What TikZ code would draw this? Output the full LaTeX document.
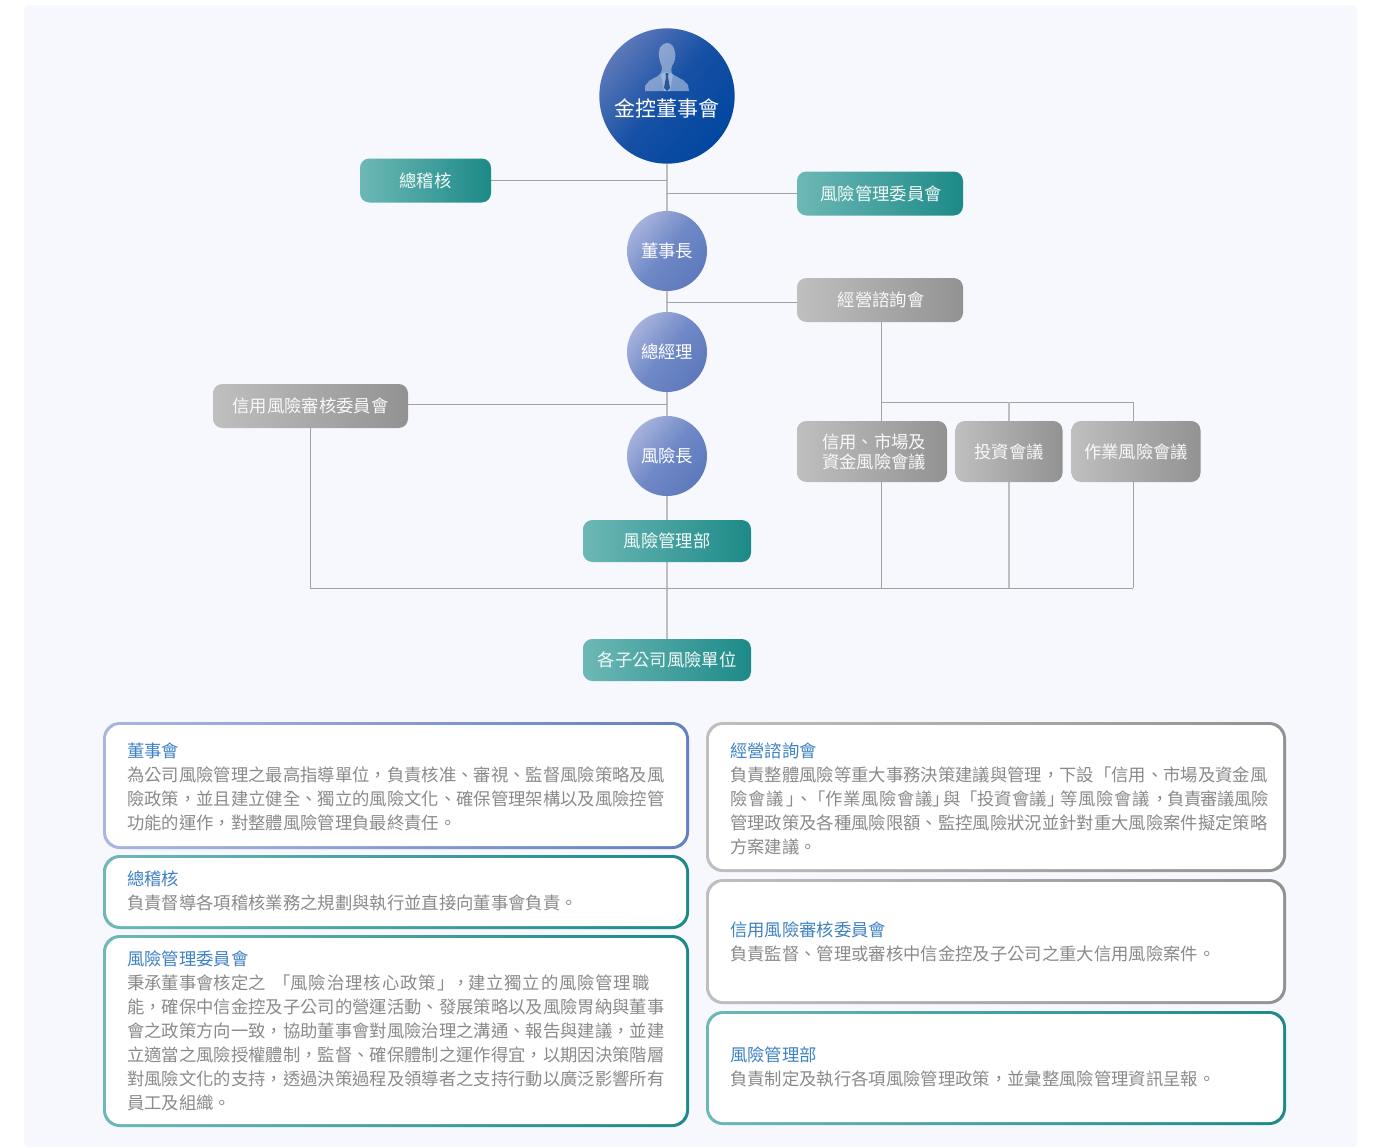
\documentclass[tikz,border=0pt]{standalone}
\usepackage{fontspec}
\setmainfont{Noto Sans CJK TC}
\usetikzlibrary{backgrounds}
\definecolor{pagebg}{HTML}{F6F8FD}
\definecolor{linegray}{HTML}{A2A2A4}
\definecolor{softgray}{HTML}{BEBEC0}
\definecolor{bodytext}{HTML}{8A8A8A}
\definecolor{headtext}{HTML}{3F82C4}
\definecolor{tealA}{HTML}{6DB8B6}
\definecolor{tealB}{HTML}{1C8A87}
\definecolor{grayA}{HTML}{BEBFBE}
\definecolor{grayB}{HTML}{919291}
\definecolor{blueA}{HTML}{AAB6E0}
\definecolor{blueB}{HTML}{6580C0}
\definecolor{boardA}{HTML}{5C78B9}
\definecolor{boardM}{HTML}{1650A4}
\definecolor{boardB}{HTML}{0047A0}
\definecolor{circA}{HTML}{A6B2DC}
\definecolor{circM}{HTML}{6F88C6}
\definecolor{circB}{HTML}{5E7ABC}
\tikzset{
  x=0.75pt, y=-0.75pt,
  sz/.style 2 args={minimum width=#1*0.75pt, minimum height=#2*0.75pt, inner sep=0pt},
  tealbox/.style={rounded corners=7pt, left color=tealA, right color=tealB, text=white!92!tealA, align=center, font=\fontsize{13}{15}\selectfont},
  graybox/.style={rounded corners=7pt, left color=grayA, right color=grayB, text=white!90!grayA, align=center, font=\fontsize{13}{15}\selectfont},
  bluecirc/.style={circle, inner sep=0pt, minimum size=60pt, top color=circA, bottom color=circB, middle color=circM, shading angle=50, text=white, font=\fontsize{13}{15}\selectfont},
  conn/.style={draw=linegray, line width=0.75pt},
  trunk/.style={draw=softgray, line width=1.3pt},
  cardline/.style={rounded corners=12.5pt},
  cardin/.style={rounded corners=10.5pt, fill=white},
  para/.style={anchor=north west, inner sep=0pt, align=left, text=bodytext, font=\fontsize{13}{18}\selectfont},
}
\newcommand{\hd}[1]{\textcolor{headtext}{#1}}
% a run of text in a cell of given pixel width, with letter spacing
\newcommand{\sg}[3]{\makebox[\dimexpr #1pt*3/4\relax][l]{\addfontfeature{LetterSpace=#2}#3}}
\begin{document}
\begin{tikzpicture}
\useasboundingbox (0,0) rectangle (1376,1147);

% chart nodes
\node[circle, inner sep=0pt, minimum size=101.5pt, top color=boardA, bottom color=boardB, middle color=boardM, shading angle=50] (board) at (667,96) {};
\fill[white, opacity=.42] (667,43) .. controls (660,44) and (658,50) .. (659,57) .. controls (660,62) and (661,65) .. (662,67) .. controls (662,72) and (661,75) .. (654,78) -- (649,81) -- (645,86) -- (645,91) -- (689,91) -- (688,85) -- (683,80) -- (672,74) .. controls (671,70) and (671,68) .. (672,66) .. controls (675,62) and (676,56) .. (675,52) .. controls (674,46) and (671,43) .. (667,43) -- cycle;
\fill[white, opacity=.25] (667,72) -- (661,74) -- (664,91) -- (670,91) -- (673,74) -- cycle;
\fill[boardB!80!black, opacity=.75] (665.5,73) -- (668.5,73) -- (668,77) -- (670,88) -- (667,91) -- (664,88) -- (666,77) -- cycle;
\node[text=white, font=\fontsize{15.75}{18}\selectfont] (boardtxt) at (667,108) {金控董事會};

\node[tealbox, sz={131}{44}] (audit) at (425.5,180.5) {總稽核};
\node[tealbox, sz={166}{44}] (rmc) at (880,193.5) {\hspace*{1.5pt}風險管理委員會};
\node[bluecirc] (chair) at (667,251) {董事長};
\node[graybox, sz={166}{44}] (advisory) at (880,300) {\hspace*{1.5pt}經營諮詢會};
\node[bluecirc] (gm) at (667,352) {總經理};
\node[graybox, sz={195}{44}] (credit) at (310.5,406) {信用風險審核委員會};
\node[bluecirc] (cro) at (667,456) {風險長};
\node[tealbox, sz={168}{42}] (rmd) at (667,541) {風險管理部};
\node[tealbox, sz={168}{42}] (subs) at (667,660) {各子公司風險單位};
\node[graybox, sz={150}{61}] (mkt) at (872,451.5) {\hspace*{3pt}信用、市場及\\\hspace*{3pt}資金風險會議};
\node[graybox, sz={107}{61}] (inv) at (1009,451.5) {投資會議};
\node[graybox, sz={129}{61}] (ops) at (1136,451.5) {作業風險會議};

\coordinate (advout) at (797,302);
\coordinate (advdown) at (881,322);
\coordinate (splitL) at (881,402);
\coordinate (splitM) at (1009,402);
\coordinate (splitR) at (1133,402);
\coordinate (creditout) at (408,404);
\coordinate (creditdown) at (310,428);
\coordinate (busL) at (310,588);
\coordinate (busA) at (881,588);
\coordinate (busB) at (1009,588);
\coordinate (busR) at (1133,588);

\begin{scope}[on background layer]
  \fill[pagebg, rounded corners=3pt] (24,5) rectangle (1357,1147);
  \draw[trunk] (board.south) -- (subs.north);
  \draw[conn] (audit.east) -- (audit.east -| board.south);
  \draw[conn] (rmc.west) -- (rmc.west -| board.south);
  \draw[conn] (advout) -- (advout -| board.south);
  \draw[conn] (creditout) -- (creditout -| board.south);
  \draw[conn] (advdown) -- (busA);
  \draw[conn] (splitL) -- (splitR) -- (busR);
  \draw[trunk] (splitM) -- (busB);
  \draw[conn] (creditdown) -- (busL) -- (busR);
\end{scope}

% cards
\path[cardline, left color=blueA, right color=blueB] (103,722) rectangle (689,849);
\path[cardin] (106,725) rectangle (686,846);
\path[cardline, left color=tealA, right color=tealB] (103,855) rectangle (689,929);
\path[cardin] (106,858) rectangle (686,926);
\path[cardline, left color=tealA, right color=tealB] (103,935) rectangle (689,1127);
\path[cardin] (106,938) rectangle (686,1124);
\path[cardline, left color=grayA, right color=grayB] (706,722) rectangle (1286,872);
\path[cardin] (709,725) rectangle (1283,869);
\path[cardline, left color=grayA, right color=grayB] (706,879) rectangle (1286,1004);
\path[cardin] (709,882) rectangle (1283,1001);
\path[cardline, left color=tealA, right color=tealB] (706,1011) rectangle (1286,1125);
\path[cardin] (709,1014) rectangle (1283,1122);

\node[para] (t1) at (127,743) {\hd{董事會}\\為公司風險管理之最高指導單位，負責核准、審視、監督風險策略及風\\險政策，並且建立健全、獨立的風險文化、確保管理架構以及風險控管\\功能的運作，對整體風險管理負最終責任。};
\node[para] (t2) at (127,871) {\hd{總稽核}\\負責督導各項稽核業務之規劃與執行並直接向董事會負責。};
\node[para] (t3) at (127,951) {\hd{風險管理委員會}\\\sg{146}{0}{秉承董事會核定之}\sg{17}{0}{「}\sg{147}{6}{風險治理核心政策}\sg{15}{0}{」}\sg{16}{0}{，}\sg{180}{5}{建立獨立的風險管理職}\\能，確保中信金控及子公司的營運活動、發展策略以及風險胃納與董事\\會之政策方向一致，協助董事會對風險治理之溝通、報告與建議，並建\\立適當之風險授權體制，監督、確保體制之運作得宜，以期因決策階層\\對風險文化的支持，透過決策過程及領導者之支持行動以廣泛影響所有\\員工及組織。};
\node[para] (t4) at (730,743) {\hd{經營諮詢會}\\負責整體風險等重大事務決策建議與管理，下設「信用、市場及資金風\\\sg{56}{5}{險會議}\sg{9}{0}{」}\sg{13}{0}{、}\sg{17}{0}{「}\sg{107}{4}{作業風險會議}\sg{11}{0}{」}\sg{17}{0}{與}\sg{17}{0}{「}\sg{70}{1}{投資會議}\sg{13}{0}{」}\sg{91}{4}{等風險會議}\sg{16}{0}{，}\sg{102}{-3}{負責審議風險}\\管理政策及各種風險限額、監控風險狀況並針對重大風險案件擬定策略\\方案建議。};
\node[para] (t5) at (730,922) {\hd{信用風險審核委員會}\\負責監督、管理或審核中信金控及子公司之重大信用風險案件。};
\node[para] (t6) at (730,1047) {\hd{風險管理部}\\負責制定及執行各項風險管理政策，並彙整風險管理資訊呈報。};
\end{tikzpicture}
\end{document}
